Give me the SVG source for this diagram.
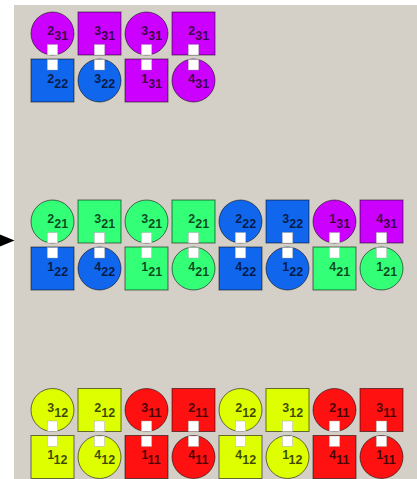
<svg xmlns="http://www.w3.org/2000/svg" width="417" height="479" viewBox="0 0 417 479">
<style>
.sh{stroke:#000;stroke-opacity:0.55;stroke-width:1}
.m{fill:#cc00ff}
.b{fill:#1166ee}
.g{fill:#33ff77}
.y{fill:#ddff00}
.r{fill:#ff1111}
.port{fill:#ffffff;stroke:#999;stroke-width:0.4}
.lbl{font-family:"Liberation Sans",Arial,sans-serif;font-weight:bold;font-size:12.5px;fill:#000;fill-opacity:0.72}
</style>
<rect x="0" y="0" width="417" height="479" fill="#ffffff"/>
<rect x="14" y="5" width="403" height="474" fill="#d4d0c8"/>
<g id="connectors">
<polygon points="0,234.5 14.5,240.5 0,246.5" fill="#000"/>
</g>
<!-- top group -->
<g id="n1"><circle class="sh m" cx="52.5" cy="33.5" r="21.5"/><rect class="port" x="47.25" y="44.5" width="10.5" height="10.5"/><text class="lbl" x="47.3" y="35.3">2<tspan dy="5">31</tspan></text></g>
<g id="n2"><rect class="sh m" x="78" y="12" width="43" height="43"/><rect class="port" x="94.25" y="44.5" width="10.5" height="10.5"/><text class="lbl" x="94.3" y="35.3">3<tspan dy="5">31</tspan></text></g>
<g id="n3"><circle class="sh m" cx="146.5" cy="33.5" r="21.5"/><rect class="port" x="141.25" y="44.5" width="10.5" height="10.5"/><text class="lbl" x="141.3" y="35.3">3<tspan dy="5">31</tspan></text></g>
<g id="n4"><rect class="sh m" x="172" y="12" width="43" height="43"/><rect class="port" x="188.25" y="44.5" width="10.5" height="10.5"/><text class="lbl" x="188.3" y="35.3">2<tspan dy="5">31</tspan></text></g>
<g id="n5"><rect class="sh b" x="31" y="59" width="43" height="43"/><rect class="port" x="47.25" y="59.5" width="10.5" height="10.5"/><text class="lbl" x="47.3" y="82.5">2<tspan dy="5">22</tspan></text></g>
<g id="n6"><circle class="sh b" cx="99.5" cy="80.5" r="21.5"/><rect class="port" x="94.25" y="59.5" width="10.5" height="10.5"/><text class="lbl" x="94.3" y="82.5">3<tspan dy="5">22</tspan></text></g>
<g id="n7"><rect class="sh m" x="125" y="59" width="43" height="43"/><rect class="port" x="141.25" y="59.5" width="10.5" height="10.5"/><text class="lbl" x="141.3" y="82.5">1<tspan dy="5">31</tspan></text></g>
<g id="n8"><circle class="sh m" cx="193.5" cy="80.5" r="21.5"/><rect class="port" x="188.25" y="59.5" width="10.5" height="10.5"/><text class="lbl" x="188.3" y="82.5">4<tspan dy="5">31</tspan></text></g>
<!-- middle group top row -->
<g id="n9"><circle class="sh g" cx="52.5" cy="221.5" r="21.5"/><rect class="port" x="47.25" y="232.5" width="10.5" height="10.5"/><text class="lbl" x="47.3" y="223.3">2<tspan dy="5">21</tspan></text></g>
<g id="n10"><rect class="sh g" x="78" y="200" width="43" height="43"/><rect class="port" x="94.25" y="232.5" width="10.5" height="10.5"/><text class="lbl" x="94.3" y="223.3">3<tspan dy="5">21</tspan></text></g>
<g id="n11"><circle class="sh g" cx="146.5" cy="221.5" r="21.5"/><rect class="port" x="141.25" y="232.5" width="10.5" height="10.5"/><text class="lbl" x="141.3" y="223.3">3<tspan dy="5">21</tspan></text></g>
<g id="n12"><rect class="sh g" x="172" y="200" width="43" height="43"/><rect class="port" x="188.25" y="232.5" width="10.5" height="10.5"/><text class="lbl" x="188.3" y="223.3">2<tspan dy="5">21</tspan></text></g>
<g id="n13"><circle class="sh b" cx="240.5" cy="221.5" r="21.5"/><rect class="port" x="235.25" y="232.5" width="10.5" height="10.5"/><text class="lbl" x="235.3" y="223.3">2<tspan dy="5">22</tspan></text></g>
<g id="n14"><rect class="sh b" x="266" y="200" width="43" height="43"/><rect class="port" x="282.25" y="232.5" width="10.5" height="10.5"/><text class="lbl" x="282.3" y="223.3">3<tspan dy="5">22</tspan></text></g>
<g id="n15"><circle class="sh m" cx="334.5" cy="221.5" r="21.5"/><rect class="port" x="329.25" y="232.5" width="10.5" height="10.5"/><text class="lbl" x="329.3" y="223.3">1<tspan dy="5">31</tspan></text></g>
<g id="n16"><rect class="sh m" x="360" y="200" width="43" height="43"/><rect class="port" x="376.25" y="232.5" width="10.5" height="10.5"/><text class="lbl" x="376.3" y="223.3">4<tspan dy="5">31</tspan></text></g>
<!-- middle group bottom row -->
<g id="n17"><rect class="sh b" x="31" y="247" width="43" height="43"/><rect class="port" x="47.25" y="247.5" width="10.5" height="10.5"/><text class="lbl" x="47.3" y="270.5">1<tspan dy="5">22</tspan></text></g>
<g id="n18"><circle class="sh b" cx="99.5" cy="268.5" r="21.5"/><rect class="port" x="94.25" y="247.5" width="10.5" height="10.5"/><text class="lbl" x="94.3" y="270.5">4<tspan dy="5">22</tspan></text></g>
<g id="n19"><rect class="sh g" x="125" y="247" width="43" height="43"/><rect class="port" x="141.25" y="247.5" width="10.5" height="10.5"/><text class="lbl" x="141.3" y="270.5">1<tspan dy="5">21</tspan></text></g>
<g id="n20"><circle class="sh g" cx="193.5" cy="268.5" r="21.5"/><rect class="port" x="188.25" y="247.5" width="10.5" height="10.5"/><text class="lbl" x="188.3" y="270.5">4<tspan dy="5">21</tspan></text></g>
<g id="n21"><rect class="sh b" x="219" y="247" width="43" height="43"/><rect class="port" x="235.25" y="247.5" width="10.5" height="10.5"/><text class="lbl" x="235.3" y="270.5">4<tspan dy="5">22</tspan></text></g>
<g id="n22"><circle class="sh b" cx="287.5" cy="268.5" r="21.5"/><rect class="port" x="282.25" y="247.5" width="10.5" height="10.5"/><text class="lbl" x="282.3" y="270.5">1<tspan dy="5">22</tspan></text></g>
<g id="n23"><rect class="sh g" x="313" y="247" width="43" height="43"/><rect class="port" x="329.25" y="247.5" width="10.5" height="10.5"/><text class="lbl" x="329.3" y="270.5">4<tspan dy="5">21</tspan></text></g>
<g id="n24"><circle class="sh g" cx="381.5" cy="268.5" r="21.5"/><rect class="port" x="376.25" y="247.5" width="10.5" height="10.5"/><text class="lbl" x="376.3" y="270.5">1<tspan dy="5">21</tspan></text></g>
<!-- bottom group top row -->
<g id="n25"><circle class="sh y" cx="52.5" cy="410" r="21.5"/><rect class="port" x="47.25" y="421" width="10.5" height="10.5"/><text class="lbl" x="47.3" y="411.8">3<tspan dy="5">12</tspan></text></g>
<g id="n26"><rect class="sh y" x="78" y="388.5" width="43" height="43"/><rect class="port" x="94.25" y="421" width="10.5" height="10.5"/><text class="lbl" x="94.3" y="411.8">2<tspan dy="5">12</tspan></text></g>
<g id="n27"><circle class="sh r" cx="146.5" cy="410" r="21.5"/><rect class="port" x="141.25" y="421" width="10.5" height="10.5"/><text class="lbl" x="141.3" y="411.8">3<tspan dy="5">11</tspan></text></g>
<g id="n28"><rect class="sh r" x="172" y="388.5" width="43" height="43"/><rect class="port" x="188.25" y="421" width="10.5" height="10.5"/><text class="lbl" x="188.3" y="411.8">2<tspan dy="5">11</tspan></text></g>
<g id="n29"><circle class="sh y" cx="240.5" cy="410" r="21.5"/><rect class="port" x="235.25" y="421" width="10.5" height="10.5"/><text class="lbl" x="235.3" y="411.8">2<tspan dy="5">12</tspan></text></g>
<g id="n30"><rect class="sh y" x="266" y="388.5" width="43" height="43"/><rect class="port" x="282.25" y="421" width="10.5" height="10.5"/><text class="lbl" x="282.3" y="411.8">3<tspan dy="5">12</tspan></text></g>
<g id="n31"><circle class="sh r" cx="334.5" cy="410" r="21.5"/><rect class="port" x="329.25" y="421" width="10.5" height="10.5"/><text class="lbl" x="329.3" y="411.8">2<tspan dy="5">11</tspan></text></g>
<g id="n32"><rect class="sh r" x="360" y="388.5" width="43" height="43"/><rect class="port" x="376.25" y="421" width="10.5" height="10.5"/><text class="lbl" x="376.3" y="411.8">3<tspan dy="5">11</tspan></text></g>
<!-- bottom group bottom row -->
<g id="n33"><rect class="sh y" x="31" y="435.5" width="43" height="43"/><rect class="port" x="47.25" y="436" width="10.5" height="10.5"/><text class="lbl" x="47.3" y="459">1<tspan dy="5">12</tspan></text></g>
<g id="n34"><circle class="sh y" cx="99.5" cy="457" r="21.5"/><rect class="port" x="94.25" y="436" width="10.5" height="10.5"/><text class="lbl" x="94.3" y="459">4<tspan dy="5">12</tspan></text></g>
<g id="n35"><rect class="sh r" x="125" y="435.5" width="43" height="43"/><rect class="port" x="141.25" y="436" width="10.5" height="10.5"/><text class="lbl" x="141.3" y="459">1<tspan dy="5">11</tspan></text></g>
<g id="n36"><circle class="sh r" cx="193.5" cy="457" r="21.5"/><rect class="port" x="188.25" y="436" width="10.5" height="10.5"/><text class="lbl" x="188.3" y="459">4<tspan dy="5">11</tspan></text></g>
<g id="n37"><rect class="sh y" x="219" y="435.5" width="43" height="43"/><rect class="port" x="235.25" y="436" width="10.5" height="10.5"/><text class="lbl" x="235.3" y="459">4<tspan dy="5">12</tspan></text></g>
<g id="n38"><circle class="sh y" cx="287.5" cy="457" r="21.5"/><rect class="port" x="282.25" y="436" width="10.5" height="10.5"/><text class="lbl" x="282.3" y="459">1<tspan dy="5">12</tspan></text></g>
<g id="n39"><rect class="sh r" x="313" y="435.5" width="43" height="43"/><rect class="port" x="329.25" y="436" width="10.5" height="10.5"/><text class="lbl" x="329.3" y="459">4<tspan dy="5">11</tspan></text></g>
<g id="n40"><circle class="sh r" cx="381.5" cy="457" r="21.5"/><rect class="port" x="376.25" y="436" width="10.5" height="10.5"/><text class="lbl" x="376.3" y="459">1<tspan dy="5">11</tspan></text></g>
</svg>
